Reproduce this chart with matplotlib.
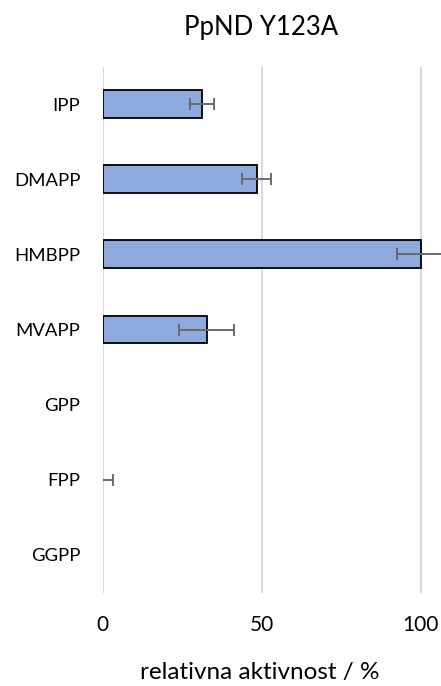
import matplotlib.pyplot as plt

plt.rcParams["font.family"] = ["Lato", "DejaVu Sans"]

substrates = ["IPP", "DMAPP", "HMBPP", "MVAPP", "GPP", "FPP", "GGPP"]
activity = [31.3, 48.4, 100.0, 32.7, 0.0, 0.0, 0.0]
activity_err = [3.8, 4.6, 7.5, 8.7, 0.0, 3.1, 0.0]

fig = plt.figure(figsize=(4.41, 6.86), dpi=100)
ax = fig.add_axes([102.7 / 441, 1 - 592.5 / 686, 1 - 102.7 / 441, (592.5 - 66.5) / 686])

ypos = list(range(len(substrates)))
# zero-height bars get no outline so they don't show up as a stub
edge_widths = [1.3 if v > 0 else 0 for v in activity]
ax.barh(ypos, activity, height=0.37, color="#8FAADC", edgecolor="black",
        linewidth=edge_widths, zorder=3)
# only show error bars where there is a spread
for y, v, e in zip(ypos, activity, activity_err):
    if e > 0:
        ax.errorbar(v, y, xerr=e, fmt="none", ecolor="#6a6a6a", elinewidth=1.4,
                    capsize=4, capthick=1.4, zorder=4, clip_on=True)

ax.set_xlim(0, (441 - 102.7) / 3.18)
ax.set_ylim(len(substrates) - 0.5, -0.5)
ax.set_yticks(ypos)
ax.set_yticklabels(substrates, fontsize=13.3)
ax.set_xticks([0, 50, 100])
ax.set_xticklabels(["0", "50", "100"], fontsize=15)

ax.grid(axis="x", color="#D9D9D9", linewidth=1.5, zorder=0)
ax.set_axisbelow(True)
for side in ["top", "right", "bottom", "left"]:
    ax.spines[side].set_visible(False)
ax.tick_params(axis="both", length=0, colors="black")
ax.tick_params(axis="y", pad=16)
ax.tick_params(axis="x", pad=16)

fig.text(261.5 / 441, 1 - 35 / 686, "PpND Y123A", ha="center", va="baseline", fontsize=18.5)
fig.text(260 / 441, 1 - 679 / 686, "relativna aktivnost / %", ha="center", va="baseline",
         fontsize=17.5)

fig.savefig("out.png", dpi=100)
